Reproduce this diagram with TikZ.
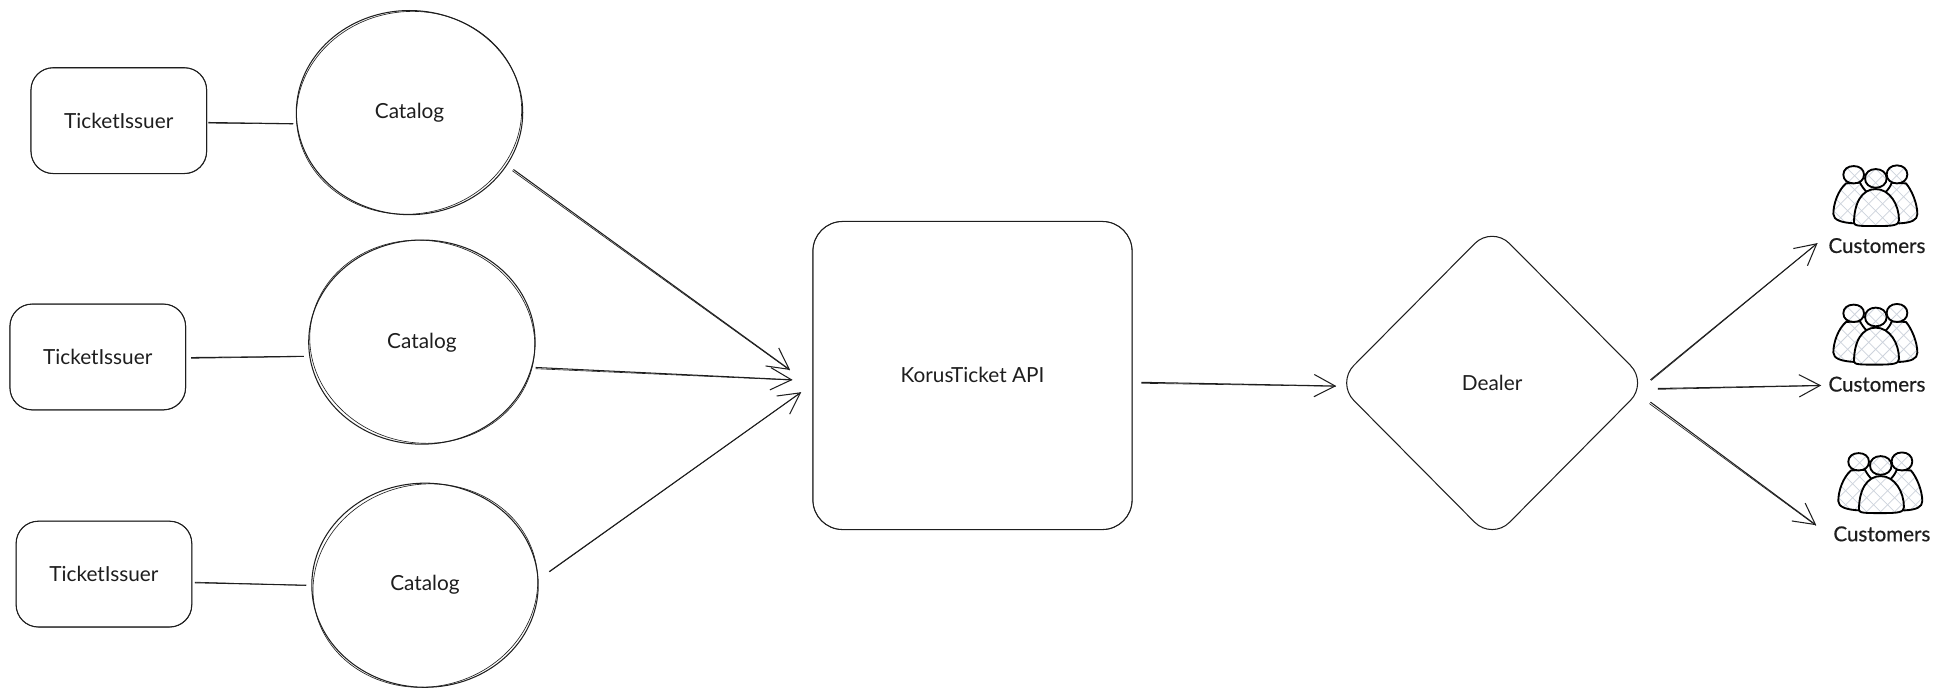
\documentclass[tikz,border=0pt]{standalone}
\usepackage{fontspec}
\setmainfont{Lato}
\newfontfamily\medfont[FakeBold=0.6]{Lato}
\usetikzlibrary{shapes.geometric,arrows.meta}
\definecolor{ink}{HTML}{1E1E1E}
\definecolor{hatchc}{HTML}{CDD3DC}
\newcommand{\pw}{0.42pt}
\newcommand{\hatchlines}{%
  \foreach \k in {-14,...,14}{
    \draw[hatchc,line width=0.3pt] (287+\k*42-200,-30) -- (287+\k*42+200,370);
    \draw[hatchc,line width=0.3pt] (287+\k*42+200,-30) -- (287+\k*42-200,370);
  }}
\newcommand{\personpart}[1]{%
  \fill[white] #1;
  \begin{scope}\clip #1; \hatchlines \end{scope}
  \draw[black,line width=0.75pt,line join=round] #1;}
\newcommand{\peopledrawing}{%
  \personpart{(198,130) .. controls (175,150) and (160,190) .. (160,222) .. controls (160,240) and (185,248) .. (224,250) -- (250,200) -- (262,158) .. controls (252,148) and (245,138) .. (240,128) -- cycle}
  \personpart{(378,130) .. controls (395,150) and (412,190) .. (412,222) .. controls (412,240) and (395,248) .. (357,250) -- (320,200) -- (315,158) .. controls (325,148) and (332,138) .. (335,128) -- cycle}
  \personpart{(190,104) .. controls (190,88) and (203,78) .. (221,78) .. controls (239,78) and (252,88) .. (252,104) .. controls (252,120) and (239,130) .. (221,130) .. controls (203,130) and (190,120) .. (190,104) -- cycle}
  \personpart{(320,103) .. controls (320,87) and (333,76) .. (351,76) .. controls (369,76) and (382,87) .. (382,103) .. controls (382,119) and (369,130) .. (351,130) .. controls (333,130) and (320,119) .. (320,103) -- cycle}
  \personpart{(255,115) .. controls (255,98) and (269,87) .. (287,87) .. controls (305,87) and (320,98) .. (320,115) .. controls (320,132) and (305,143) .. (287,143) .. controls (269,143) and (255,132) .. (255,115) -- cycle}
  \personpart{(222,248) .. controls (222,190) and (245,147) .. (287,147) .. controls (330,147) and (357,195) .. (357,240) .. controls (357,256) and (340,258) .. (290,258) .. controls (240,258) and (222,258) .. (222,248) -- cycle}
}
\tikzset{
  every node/.style={text=ink,font=\fontsize{8.4}{10}\selectfont,inner sep=0pt},
  issuer/.style={draw=ink,line width=\pw,rectangle,rounded corners=9pt,minimum width=71pt,minimum height=42.75pt},
  catalog/.style={draw=ink,line width=\pw,ellipse,minimum width=91.5pt,minimum height=82.5pt},
  apibox/.style={draw=ink,line width=\pw,rectangle,rounded corners=12pt,minimum width=129pt,minimum height=124.5pt},
  dealerbox/.style={draw=ink,line width=\pw,diamond,rounded corners=10pt,minimum width=126pt,minimum height=127pt},
  custlabel/.style={font=\medfont\fontsize{8.3}{10}\selectfont},
  sk/.style={draw=ink,line width=0.25pt},
  link/.style={draw=ink,line width=\pw},
  linkarrow/.style={draw=ink,line width=\pw,-{Straight Barb[length=8.5pt,width=9pt,line width=\pw]}},
  people/.pic={
    \begin{scope}[scale=0.2694,shift={(-287,-170)}]
      \peopledrawing
    \end{scope}
  }
}
% connector drawn twice, the second pass a little off, as a hand-drawn stroke
\newcommand{\sketchlink}[4]{%
  \coordinate (sA) at #2; \coordinate (sB) at #3;
  \draw[#1] (sA) -- (sB);
  \draw[sk] ([shift={#4}]sA) -- ([shift={(-0.3,0.2)}]sB);}
\begin{document}
\begin{tikzpicture}[x=0.5pt,y=-0.5pt]
\useasboundingbox (0,0) rectangle (1568,562.56);
\fill[white] (0,0) rectangle (1568,562.56);

% left column
\node[issuer] (box1) at (96,97.5) {TicketIssuer};
\node[issuer] (box2) at (79,288.5) {TicketIssuer};
\node[issuer] (box3) at (84,464) {\raisebox{0.4pt}{TicketIssuer}};
\node[catalog] (cat1) at (331,91) {};
\node[catalog] (cat2) at (341,276.5) {};
\node[catalog] (cat3) at (343.5,473) {};
\node (cat1t) at (331,91) {Catalog};
\node (cat2t) at (341,277) {Catalog};
\node (cat3t) at (343.5,473) {Catalog};

% centre
\node[apibox] (api) at (786,303.5) {\raisebox{0.4pt}{KorusTicket API}};
\node[dealerbox] (dealer) at (1206,309.5) {\raisebox{0.4pt}{Dealer}};

% customers
\pic at (1516,159) {people};
\pic at (1516,271) {people};
\pic at (1520,391) {people};
\node[custlabel] (cust1) at (1517,198.5) {Customers};
\node[custlabel] (cust2) at (1517,310.5) {Customers};
\node[custlabel] (cust3) at (1521,431.5) {Customers};

% second pass on outlines
\draw[sk,rounded corners=9pt] ([shift={(0.5,-0.3)}]box1.south west) rectangle ([shift={(-0.3,0.4)}]box1.north east);
\draw[sk,rounded corners=9pt] ([shift={(0.5,-0.3)}]box2.south west) rectangle ([shift={(-0.3,0.4)}]box2.north east);
\draw[sk,rounded corners=9pt] ([shift={(0.5,-0.3)}]box3.south west) rectangle ([shift={(-0.3,0.4)}]box3.north east);
\draw[sk,rounded corners=12pt] ([shift={(0.5,-0.4)}]api.south west) rectangle ([shift={(-0.4,0.4)}]api.north east);
\draw[sk] ([shift={(-0.4,0.2)}]cat1.center) ellipse[x radius=45.6pt,y radius=40.9pt,rotate=8];
\draw[sk] ([shift={(0.3,-0.3)}]cat2.center) ellipse[x radius=45.6pt,y radius=40.9pt,rotate=-10];
\draw[sk] ([shift={(0.3,0.3)}]cat3.center) ellipse[x radius=45.6pt,y radius=40.9pt,rotate=12];

% connectors
\sketchlink{link}{([shift={(1,1.5)}]box1.east)}{([shift={(-2,9)}]cat1.west)}{(0,0.5)}
\sketchlink{link}{([shift={(4,0.5)}]box2.east)}{([shift={(-3.5,11.5)}]cat2.west)}{(0,0.6)}
\sketchlink{link}{([shift={(2,7)}]box3.east)}{([shift={(-4,0)}]cat3.west)}{(0,-0.5)}
\sketchlink{linkarrow}{([shift={(84,46)}]cat1.center)}{([shift={(-18,-4.5)}]api.west)}{(-0.9,1)}
\sketchlink{linkarrow}{([shift={(0,20.5)}]cat2.east)}{([shift={(-16,3.5)}]api.west)}{(0,1)}
\sketchlink{linkarrow}{([shift={(8.5,-11)}]cat3.east)}{([shift={(-9,13.5)}]api.west)}{(0.2,0.2)}
\sketchlink{linkarrow}{([shift={(7,5.5)}]api.east)}{([shift={(-126,2.5)}]dealer.center)}{(0,0.8)}
\sketchlink{linkarrow}{([shift={(128,-2.5)}]dealer.center)}{([shift={(-48,-2)}]cust1.center)}{(0.5,0.5)}
\sketchlink{linkarrow}{([shift={(134,4.5)}]dealer.center)}{([shift={(-45,1)}]cust2.center)}{(0,0.7)}
\sketchlink{linkarrow}{([shift={(128,15.5)}]dealer.center)}{([shift={(-53,-7)}]cust3.center)}{(-0.9,1.2)}
\end{tikzpicture}
\end{document}
